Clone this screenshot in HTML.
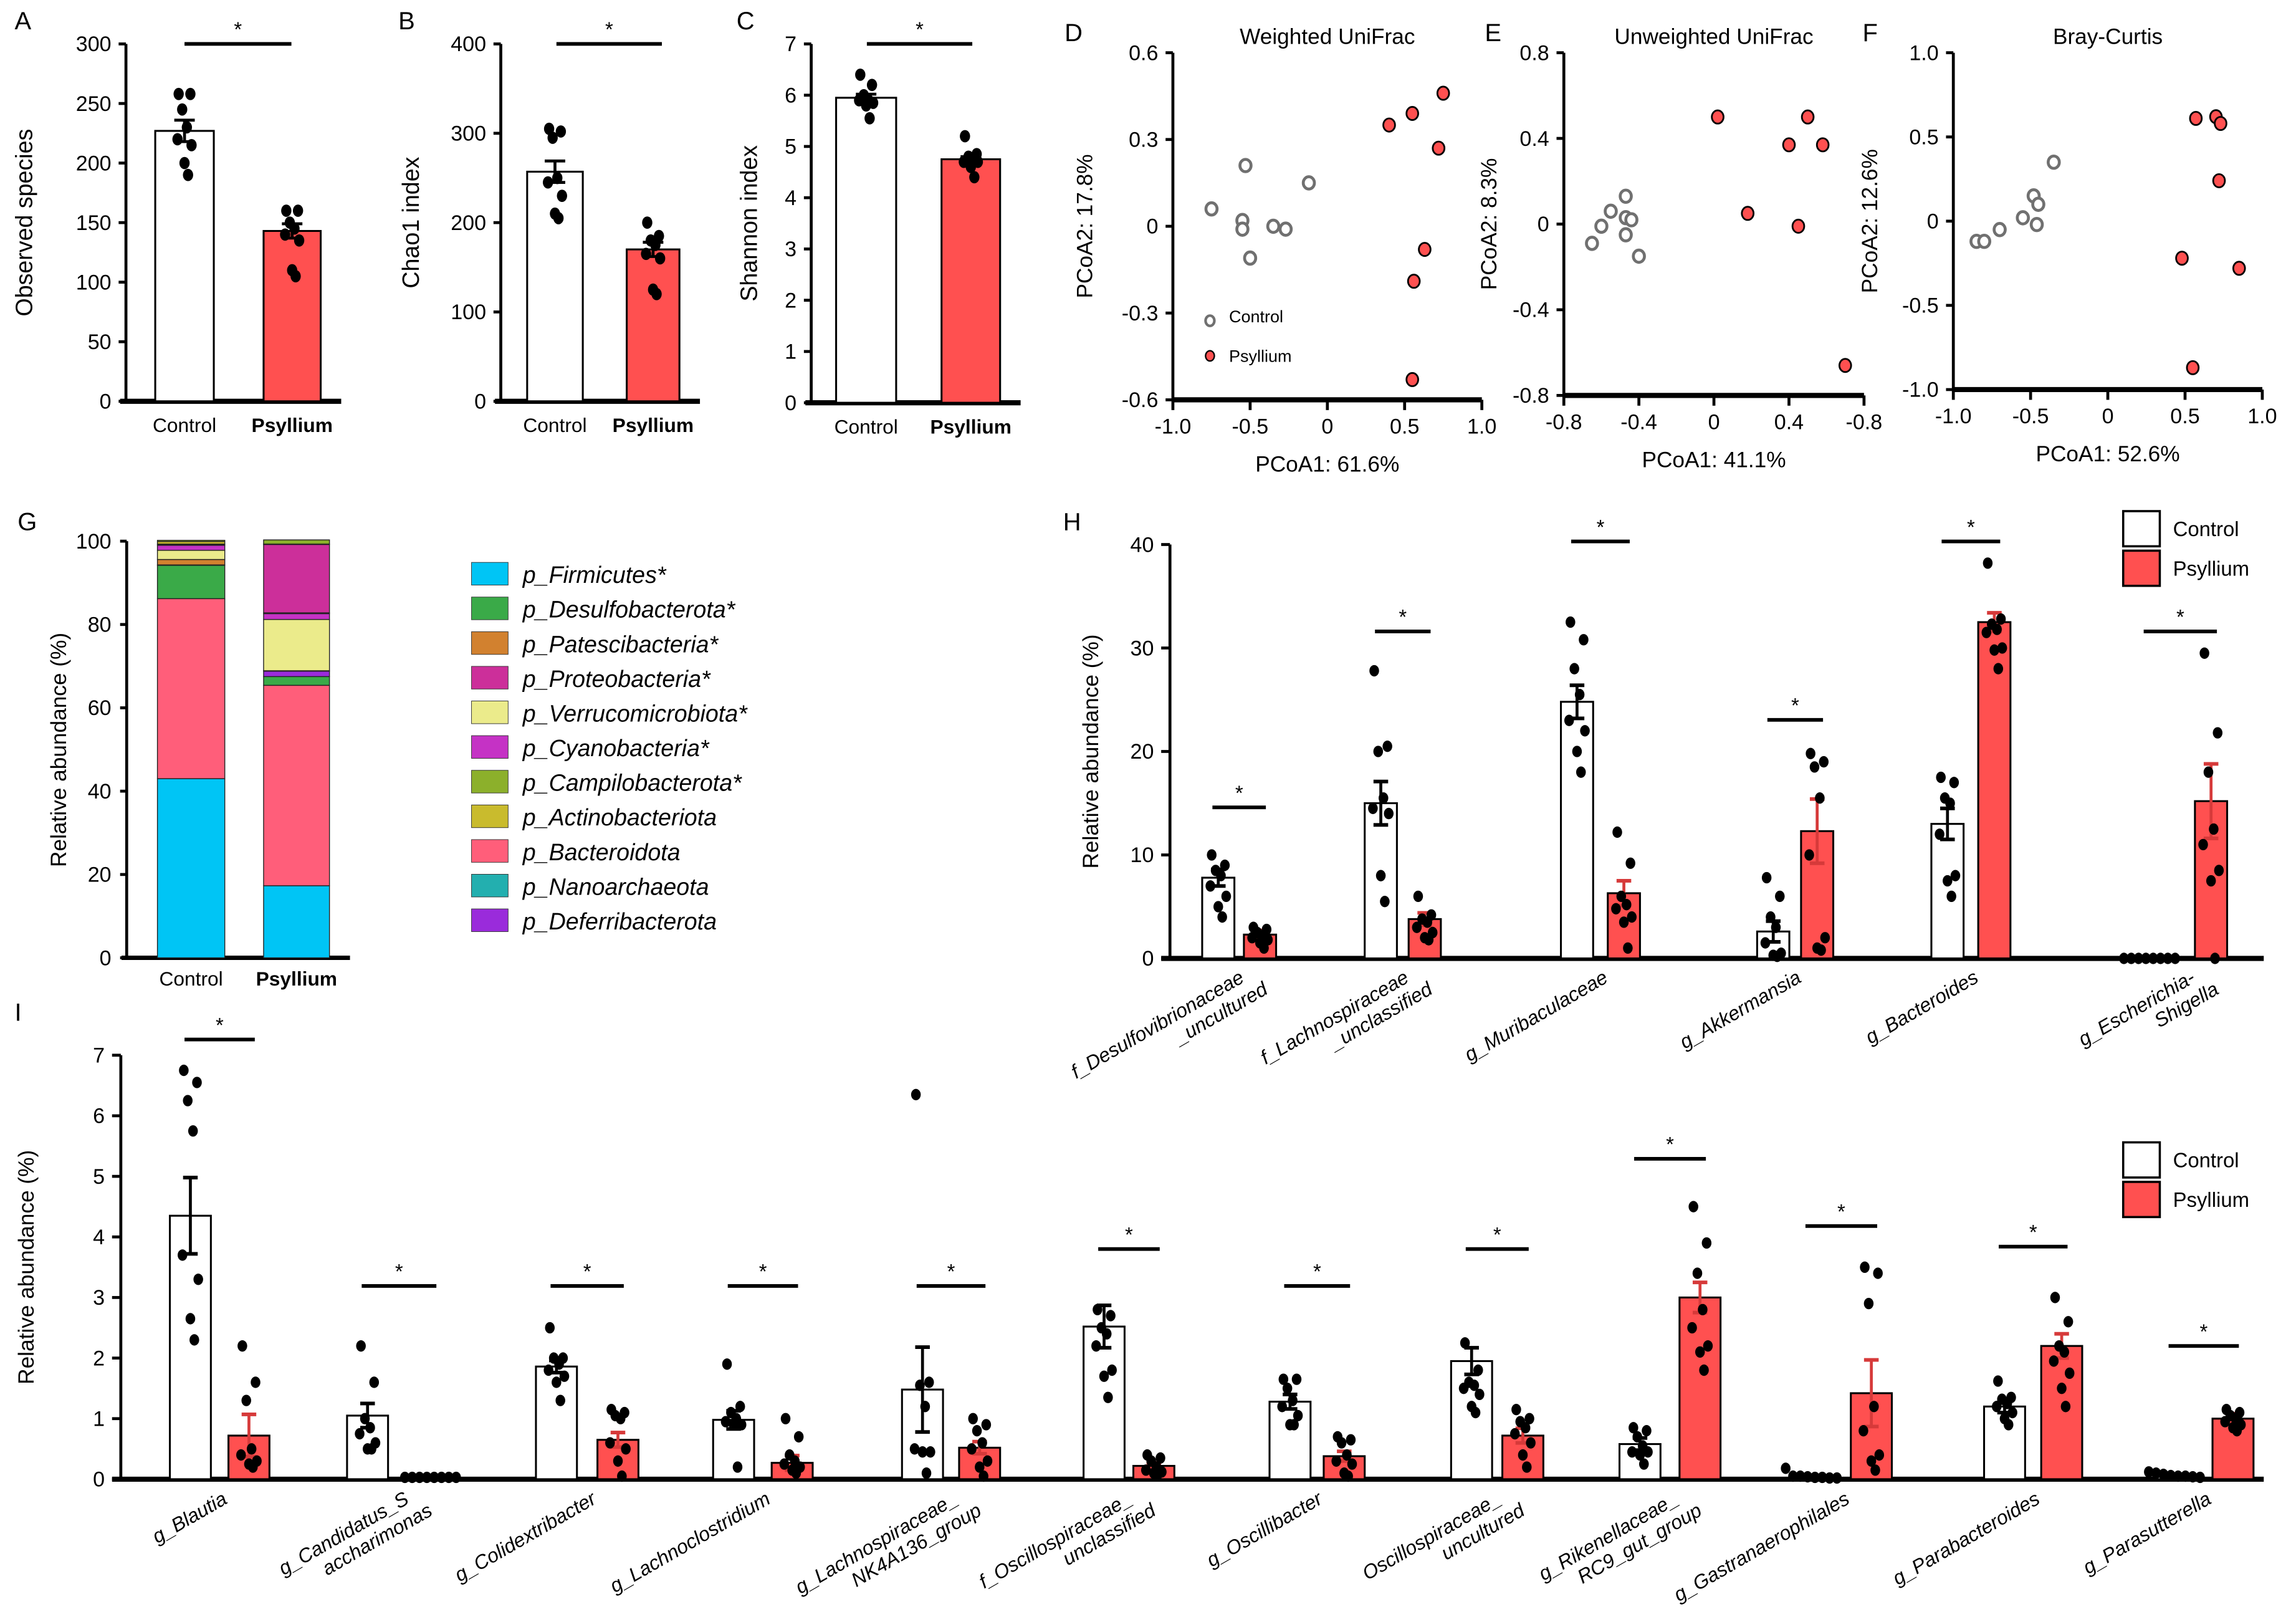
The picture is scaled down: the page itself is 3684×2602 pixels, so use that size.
<!DOCTYPE html>
<html><head><meta charset="utf-8"><style>
html,body{margin:0;padding:0;background:#fff;}
svg{display:block;font-family:"Liberation Sans",Arial,sans-serif;}
</style></head><body>
<svg id="fig" xmlns="http://www.w3.org/2000/svg" width="3684" height="2602" viewBox="0 0 1568 1107.5">
<rect width="1568" height="1107.5" fill="#fff"/>
</svg>
<script>
// ---------- Panels A-C data ----------
const abcGroups = ["Control","Psyllium"];
const obsMeans = [227,143]; const obsSem = [9,6];
const obsCtrlPts = [258,258,245,230,220,215,200,190];
const obsPsyPts = [160,160,150,145,140,135,110,105];
const chaoMeans = [257,170]; const chaoSem = [12,8];
const chaoCtrlPts = [305,302,295,250,245,230,210,205];
const chaoPsyPts = [200,185,180,175,165,160,125,120];
const shanMeans = [5.95,4.75]; const shanSem = [0.07,0.05];
const shanCtrlPts = [6.4,6.2,6.0,5.9,5.9,5.85,5.8,5.55];
const shanPsyPts = [5.2,4.85,4.8,4.75,4.7,4.7,4.6,4.4];
const obsTicks = [0,50,100,150,200,250,300];
const chaoTicks = [0,100,200,300,400];
const shanTicks = [0,1,2,3,4,5,6,7];
// ---------- PCoA data ----------
const wCtrlX = [-0.75,-0.53,-0.55,-0.55,-0.5,-0.35,-0.27,-0.12];
const wCtrlY = [0.06,0.21,0.02,-0.01,-0.11,0.0,-0.01,0.15];
const wPsyX = [0.4,0.55,0.75,0.72,0.63,0.56,0.55];
const wPsyY = [0.35,0.39,0.46,0.27,-0.08,-0.19,-0.53];
const uCtrlX = [-0.65,-0.6,-0.55,-0.47,-0.47,-0.47,-0.44,-0.4];
const uCtrlY = [-0.09,-0.01,0.06,0.13,0.03,-0.05,0.02,-0.15];
const uPsyX = [0.02,0.18,0.4,0.5,0.58,0.45,0.7];
const uPsyY = [0.5,0.05,0.37,0.5,0.37,-0.01,-0.66];
const bCtrlX = [-0.85,-0.8,-0.7,-0.55,-0.48,-0.45,-0.46,-0.35];
const bCtrlY = [-0.12,-0.12,-0.05,0.02,0.15,0.1,-0.02,0.35];
const bPsyX = [0.48,0.57,0.7,0.73,0.72,0.85,0.55];
const bPsyY = [-0.22,0.61,0.62,0.58,0.24,-0.28,-0.87];
const wXTicks=["-1.0","-0.5","0","0.5","1.0"], wYTicks=["-0.6","-0.3","0","0.3","0.6"];
const uXTicks=["-0.8","-0.4","0","0.4","-0.8"], uYTicks=["-0.8","-0.4","0","0.4","0.8"];
const bXTicks=["-1.0","-0.5","0","0.5","1.0"], bYTicks=["-1.0","-0.5","0","0.5","1.0"];
// ---------- Panel G data ----------
const phyla = ["p_Firmicutes*","p_Desulfobacterota*","p_Patescibacteria*","p_Proteobacteria*","p_Verrucomicrobiota*","p_Cyanobacteria*","p_Campilobacterota*","p_Actinobacteriota","p_Bacteroidota","p_Nanoarchaeota","p_Deferribacterota"];
const phylaColors = ["#00C5F5","#3AAA48","#D2812F","#CC2F9A","#EBEB8B","#C532C5","#8CB02B","#C9BB2D","#FF5E7A","#23AFAF","#9A2BDB"];
const stackOrder = [0,8,1,10,2,4,5,9,3,7,6];
const ctrlComp = [43,8,1.3,0.1,2.2,1.2,0.3,0.6,43.2,0.2,0.1];
const psyComp = [17.3,2.1,0.1,16.4,12.3,1.4,1.0,0.1,48.1,0.2,1.3];
const gTicks = [0,20,40,60,80,100];
// ---------- Panel H data ----------
const hTaxa = [["f_Desulfovibrionaceae","_uncultured"],["f_Lachnospiraceae","_unclassified"],["g_Muribaculaceae"],["g_Akkermansia"],["g_Bacteroides"],["g_Escherichia-","Shigella"]];
const hCtrlMean = [7.8,15,24.8,2.6,13,0];
const hCtrlSem = [0.8,2.1,1.6,1.0,1.5,0];
const hPsyMean = [2.3,3.8,6.3,12.3,32.5,15.2];
const hPsySem = [0.4,0.6,1.2,3.1,0.9,3.6];
const hSig = [14.6,31.6,40.3,23.05,40.3,31.6];
const hCtrlPts = [[10,9,8.5,8,7,6,5,4],[27.8,20.5,20,15.5,14.5,14,8,5.5],[32.5,30.8,28,25.5,23,22,20,18],[7.8,6,4,3,1.5,0.5,0.3,0.2],[17.5,17,15.5,15,12,8,7.5,6],[0,0,0,0,0,0,0,0]];
const hPsyPts = [[3,2.8,2.5,2.2,2,1.8,1.5,1],[6,4.2,3.8,3.5,3,2.5,2,1.8],[12.2,9.2,6,5.2,4.8,4,3.5,1],[19.8,19,18.5,15.5,10,2,1,0.8],[38.2,32.8,32.3,31.8,31.5,30,29.8,28],[29.5,21.8,18,12.5,11,8.5,7.5,0]];
const hTicks = [0,10,20,30,40];
// ---------- Panel I data ----------
const iTaxa = [["g_Blautia"],["g_Candidatus_S","accharimonas"],["g_Colidextribacter"],["g_Lachnoclostridium"],["g_Lachnospiraceae_","NK4A136_group"],["f_Oscillospiraceae_","unclassified"],["g_Oscillibacter"],["Oscillospiraceae_","uncultured"],["g_Rikenellaceae_","RC9_gut_group"],["g_Gastranaerophilales"],["g_Parabacteroides"],["g_Parasutterella"]];
const iCtrlMean = [4.35,1.05,1.86,0.98,1.48,2.52,1.28,1.95,0.58,0.04,1.2,0.04];
const iCtrlSem = [0.63,0.2,0.1,0.15,0.7,0.35,0.12,0.22,0.1,0.02,0.1,0.02];
const iPsyMean = [0.72,0.03,0.65,0.27,0.52,0.22,0.38,0.72,3.0,1.42,2.2,1.0];
const iPsySem = [0.35,0.01,0.12,0.12,0.1,0.05,0.08,0.12,0.25,0.55,0.2,0.08];
const iSig = [7.26,3.19,3.19,3.19,3.19,3.8,3.19,3.8,5.29,4.18,3.84,2.2];
const iCtrlPts = [[6.75,6.55,6.25,5.75,3.7,3.3,2.65,2.3],[2.2,1.6,1.0,0.85,0.75,0.6,0.5,0.5],[2.5,2.0,2.0,1.9,1.8,1.7,1.6,1.3],[1.9,1.2,1.1,1.0,0.95,0.9,0.9,0.2],[6.35,1.6,1.55,1.2,0.5,0.45,0.45,0.1],[2.8,2.7,2.5,2.4,2.2,1.8,1.7,1.35],[1.65,1.65,1.5,1.3,1.2,1.05,0.9,0.9],[2.25,1.8,1.6,1.55,1.5,1.4,1.2,1.1],[0.85,0.8,0.7,0.55,0.45,0.45,0.4,0.25],[0.18,0.05,0.05,0.04,0.03,0.03,0.02,0.02],[1.62,1.35,1.32,1.25,1.2,1.1,1.0,0.9],[0.12,0.1,0.08,0.06,0.05,0.05,0.04,0.03]];
const iPsyPts = [[2.2,1.6,1.3,0.5,0.4,0.3,0.25,0.2],[0.03,0.03,0.03,0.03,0.03,0.03,0.03,0.03],[1.15,1.1,1.05,1.0,0.6,0.5,0.3,0.05],[1.0,0.7,0.4,0.3,0.25,0.2,0.15,0.1],[1.0,0.9,0.8,0.6,0.5,0.3,0.2,0.05],[0.4,0.35,0.3,0.2,0.15,0.12,0.1,0.08],[0.7,0.65,0.6,0.4,0.3,0.25,0.1,0.05],[1.15,1.0,0.95,0.85,0.75,0.6,0.4,0.2],[4.5,3.9,3.4,2.8,2.5,2.2,2.1,1.8],[3.5,3.4,2.9,1.2,0.8,0.4,0.3,0.15],[3.0,2.6,2.2,2.1,1.95,1.75,1.5,1.2],[1.15,1.1,1.05,1.0,0.95,0.9,0.85,0.8]];
const iTicks = [0,1,2,3,4,5,6,7];

const NS="http://www.w3.org/2000/svg";
const svg=document.getElementById('fig');
const RED="#FF5050", DRED="#D63A3A";
function mk(tag,parent){const e=document.createElementNS(NS,tag);(parent||svg).appendChild(e);return e;}
function set(e,o){for(const k in o)e.setAttribute(k,o[k]);return e;}
function txt(parent,x,y,s,size,anchor,extra){const t=mk('text',parent);set(t,{x:x,y:y,'font-size':size,'text-anchor':anchor||'middle'});if(extra)set(t,extra);t.textContent=s;return t;}
function line(parent,x1,y1,x2,y2,w,c){const l=mk('line',parent);set(l,{x1:x1,y1:y1,x2:x2,y2:y2,stroke:c||'#000','stroke-width':w||1.5});return l;}
const jit=[-5,5,-2,2,-6,6,0,3];

function letter(s,x,y){const t=txt(svg,x,y,s,17,'start');

}

// ----- bar panels A-C -----
function simpleBar(name,ax,y0,yTop,vmax,ticks,means,sems,ctrlPts,psyPts,bars,ylabel,ylx,sigX){
 const g=mk('g');
 
 
 const ys=v=>y0-(v/vmax)*(y0-yTop);
 line(g,ax,y0,ax,yTop,2);
 line(g,ax-4,y0,bars[1][1]+14,y0,3.5);
 ticks.forEach(t=>{line(g,ax-5,ys(t),ax,ys(t),2);const tl=txt(g,ax-10,ys(t)+5,String(t),14.5,'end');
 
 });
 const yl=txt(g,0,0,ylabel,16,'middle',{transform:`translate(${ylx},${(y0+yTop)/2}) rotate(-90)`});
 
 
 [ctrlPts,psyPts].forEach((pts,i)=>{
  const x0=bars[i][0],x1=bars[i][1],cx=(x0+x1)/2;
  const r=mk('rect',g);set(r,{x:x0,y:ys(means[i]),width:x1-x0,height:y0-ys(means[i]),fill:i?RED:'#fff',stroke:'#000','stroke-width':1.3});
  
  
  line(g,cx,ys(means[i]-sems[i]),cx,ys(means[i]+sems[i]),2);
  line(g,cx-7,ys(means[i]+sems[i]),cx+7,ys(means[i]+sems[i]),2);
  line(g,cx-7,ys(means[i]-sems[i]),cx+7,ys(means[i]-sems[i]),2);
  pts.forEach((v,j)=>{const c=mk('ellipse',g);set(c,{cx:cx+jit[j]*0.8,cy:ys(v),rx:3.5,ry:4.2,fill:'#000'});
  
  });
  const xl=txt(g,cx,y0+21,abcGroups[i],13.5,'middle',i?{'font-weight':'bold'}:{});
  
  
 });
 line(g,sigX[0],30,sigX[1],30,2.5);txt(g,(sigX[0]+sigX[1])/2,25,'*',14);
}
letter('A',10,20);letter('B',272,20);letter('C',503,20);
simpleBar('panel-a-observed-species',86,274,30,300,obsTicks,obsMeans,obsSem,obsCtrlPts,obsPsyPts,[[106,146],[180,219]],'Observed species',22,[126,199]);
simpleBar('panel-b-chao1',342,274,30,400,chaoTicks,chaoMeans,chaoSem,chaoCtrlPts,chaoPsyPts,[[360,398],[428,464]],'Chao1 index',286,[380,452]);
simpleBar('panel-c-shannon',554,275,30,7,shanTicks,shanMeans,shanSem,shanCtrlPts,shanPsyPts,[[571,612],[643,683]],'Shannon index',517,[592,664]);

// ----- PCoA panels -----
function pcoa(name,title,ax,axR,yTop,yBot,xmin,xmax,ymin,ymax,xt,yt,cx,cy,px,py,xlab,ylab,ylx,legend){
 const g=mk('g');
 
 
 const X=v=>ax+(v-xmin)/(xmax-xmin)*(axR-ax), Y=v=>yBot-(v-ymin)/(ymax-ymin)*(yBot-yTop);
 line(g,ax,yBot,ax,yTop,2);line(g,ax,yBot,axR,yBot,3.5);
 yt.forEach((s,i)=>{const yy=yBot-i*(yBot-yTop)/(yt.length-1);line(g,ax-5,yy,ax,yy,2);txt(g,ax-10,yy+5,s,14.5,'end');});
 xt.forEach((s,i)=>{const xx=ax+i*(axR-ax)/(xt.length-1);line(g,xx,yBot,xx,yBot+7,2);txt(g,xx,yBot+23,s,14.5);});
 const tt=txt(g,(ax+axR)/2,30,title,15);
 
 
 txt(g,(ax+axR)/2,yBot+49,xlab,15);
 txt(g,0,0,ylab,15,'middle',{transform:`translate(${ylx},${(yTop+yBot)/2}) rotate(-90)`});
 cx.forEach((v,i)=>{const c=mk('ellipse',g);set(c,{cx:X(v),cy:Y(cy[i]),rx:3.8,ry:4.2,fill:'#fff',stroke:'#707070','stroke-width':2});
 
 });
 px.forEach((v,i)=>{const c=mk('ellipse',g);set(c,{cx:X(v),cy:Y(py[i]),rx:4,ry:4.5,fill:RED,stroke:'#000','stroke-width':1.2});
 
 });
 if(legend){
  const c1=mk('ellipse',g);set(c1,{cx:X(-0.76),cy:219,rx:3,ry:3.5,fill:'#fff',stroke:'#707070','stroke-width':1.8});
  
  
  txt(g,X(-0.76)+13,220,'Control',11.5,'start');
  const c2=mk('ellipse',g);set(c2,{cx:X(-0.76),cy:243,rx:3,ry:3.5,fill:RED,stroke:'#000','stroke-width':1});
  
  
  txt(g,X(-0.76)+13,247,'Psyllium',11.5,'start');
 }
}
letter('D',727,28);letter('E',1014,28);letter('F',1272,28);
pcoa('panel-d-weighted-unifrac','Weighted UniFrac',801,1012,36,273,-1,1,-0.6,0.6,wXTicks,wYTicks,wCtrlX,wCtrlY,wPsyX,wPsyY,'PCoA1: 61.6%','PCoA2: 17.8%',746,true);
pcoa('panel-e-unweighted-unifrac','Unweighted UniFrac',1068,1273,36,270,-0.8,0.8,-0.8,0.8,uXTicks,uYTicks,uCtrlX,uCtrlY,uPsyX,uPsyY,'PCoA1: 41.1%','PCoA2: 8.3%',1022,false);
pcoa('panel-f-bray-curtis','Bray-Curtis',1334,1545,36,266,-1,1,-1,1,bXTicks,bYTicks,bCtrlX,bCtrlY,bPsyX,bPsyY,'PCoA1: 52.6%','PCoA2: 12.6%',1282,false);

// ----- Panel G -----
letter('G',12,362);
(function(){
 const g=mk('g');
 
 
 const y0=654,yTop=369.5,Y=v=>y0-v/100*(y0-yTop);
 line(g,86.5,y0,86.5,yTop,2);line(g,83,y0,239,y0,3);
 gTicks.forEach(t=>{line(g,82,Y(t),86.5,Y(t),2);txt(g,76,Y(t)+5,String(t),14.5,'end');});
 txt(g,0,0,'Relative abundance (%)',15,'middle',{transform:'translate(45,512) rotate(-90)'});
 [[ctrlComp,107.5,153.5,'Control',false],[psyComp,180,225,'Psyllium',true]].forEach(([comp,x0,x1,lab,b])=>{
  let acc=0;
  stackOrder.forEach(k=>{const v=comp[k];const r=mk('rect',g);set(r,{x:x0,y:Y(acc+v),width:x1-x0,height:Y(acc)-Y(acc+v),fill:phylaColors[k],stroke:'#222','stroke-width':0.6});
  
  
  acc+=v;});
  const xl=txt(g,(x0+x1)/2,y0+19,lab,13.5,'middle',b?{'font-weight':'bold'}:{});
  
  
 });
 phyla.forEach((p,i)=>{const yy=384+i*23.66;const r=mk('rect',g);set(r,{x:322,y:yy,width:25,height:15.5,fill:phylaColors[i],stroke:'#333','stroke-width':0.4});
 
 
 const t=txt(g,357,yy+14,p,16,'start',{'font-style':'italic'});
 
 });
})();

// ----- grouped bar panels H & I -----
function grouped(name,ax,axR,y0,yTop,vmax,ticks,ctrlM,ctrlS,psyM,psyS,ctrlPts,psyPts,sig,taxa,cc0,pc0,bw,ylx,labY,labDx,leg){
 const g=mk('g');
 
 
 const Y=v=>y0-v/vmax*(y0-yTop);
 line(g,ax,y0,ax,yTop,2);line(g,ax-6,y0,axR,y0,3.5);
 ticks.forEach(t=>{line(g,ax-6,Y(t),ax,Y(t),2);txt(g,ax-11,Y(t)+5,String(t),14.5,'end');});
 txt(g,0,0,'Relative abundance (%)',15,'middle',{transform:`translate(${ylx},${(y0+yTop)/2}) rotate(-90)`});
 taxa.forEach((lab,i)=>{
  const cc=cc0[i], pc=pc0[i];
  [[ctrlM,ctrlS,ctrlPts,cc,'#fff','#000'],[psyM,psyS,psyPts,pc,RED,DRED]].forEach(([M,S,P,c,f,ec],k)=>{
   const r=mk('rect',g);set(r,{x:c-bw/2,y:Y(M[i]),width:bw,height:y0-Y(M[i]),fill:f,stroke:'#000','stroke-width':1.3});
   
   
   if(S[i]>0){line(g,c,Y(M[i]-S[i]),c,Y(M[i]+S[i]),2,ec);line(g,c-5,Y(M[i]+S[i]),c+5,Y(M[i]+S[i]),2.5,ec);line(g,c-5,Y(M[i]-S[i]),c+5,Y(M[i]-S[i]),2.5,ec);}
   const flat=Math.max.apply(null,P[i])<vmax*0.035;
   P[i].forEach((v,j)=>{
    const dx=flat?(j-3.5)*5:jit[j]*0.9;
    const e=mk('ellipse',g);set(e,{cx:c+dx,cy:Y(v),rx:3.3,ry:3.9,fill:'#000'});
    
    });
  });
  const sy=Y(sig[i]);line(g,cc-4,sy,pc+4,sy,2.5);txt(g,(cc+pc)/2,sy-5,'*',14);
  const t=mk('text',g);set(t,{'font-size':13.5,'font-style':'italic','text-anchor':'end',transform:`translate(${pc+labDx},${labY}) rotate(-30)`});
  lab.forEach((s,j)=>{const ts=mk('tspan',t);set(ts,{x:j?10:0,dy:j?15:0});ts.textContent=s;});
  
  
 });
 const lx=leg[0],ly=leg[1];
 const r1=mk('rect',g);set(r1,{x:lx,y:ly,width:25,height:24,fill:'#fff',stroke:'#000','stroke-width':1.5});
 
 
 const r2=mk('rect',g);set(r2,{x:lx,y:ly+27,width:25,height:24,fill:RED,stroke:'#000','stroke-width':1.5});
 
 
 const l1=txt(g,lx+34,ly+17,'Control',14,'start');
 
 
 const l2=txt(g,lx+34,ly+44,'Psyllium',14,'start');
 
 
}
letter('H',726,362);
grouped('panel-h-genus-abundance',799,1546,654.4,371.8,40,hTicks,hCtrlMean,hCtrlSem,hPsyMean,hPsySem,hCtrlPts,hPsyPts,hSig,hTaxa,
 [832,943,1077,1211,1330,1468],[860.5,973,1109,1241,1362,1510],22,750,670,-10,[1450,349]);
letter('I',10,697);
grouped('panel-i-genus-abundance',82.5,1546,1010,720.5,7,iTicks,iCtrlMean,iCtrlSem,iPsyMean,iPsySem,iCtrlPts,iPsyPts,iSig,iTaxa,
 [130,251,380,501,630,754,881,1005,1120,1237,1369,1485],[170,294,422,541,669,788,918,1040,1161,1278,1408,1525],28,23,1026,-14,[1450,780]);
</script>
</body></html>
